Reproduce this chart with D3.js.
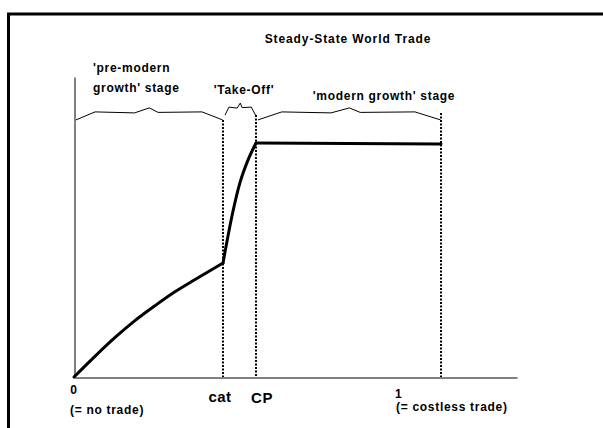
<!DOCTYPE html>
<html>
<head>
<meta charset="utf-8">
<script src="https://cdn.jsdelivr.net/npm/d3@7"></script>
<style>
body { margin: 0; background: #fff; }
text { font-family: "Liberation Sans", Arial, sans-serif; font-weight: bold; fill: #000; letter-spacing: 0.7px; }
</style>
</head>
<body>
<script>
// x = trade openness (0 = no trade, 1 = costless trade), y = steady-state world trade
var preModern = [[0, 0], [0.057, 0.069], [0.112, 0.132], [0.166, 0.188], [0.221, 0.238], [0.275, 0.284], [0.33, 0.325], [0.406, 0.38]];
var takeOff = [[0.406, 0.38], [0.431, 0.54], [0.452, 0.647], [0.474, 0.723], [0.496, 0.78]];
var modern = [[0.496, 0.78], [1, 0.777]];
var breakX = [0.406, 0.496, 1];          // cat, CP, 1
var breakTop = [0.857, 0.873, 0.88];
var stageSpans = [[0, 0.406], [0.406, 0.496], [0.496, 1]];
var stageBase = [0.857, 0.873, 0.857];
var stageNames = [["'pre-modern", "growth' stage"], ["'Take-Off'"], ["'modern growth' stage"]];
var tickLabels = ["0", "cat", "CP", "1"];
var tickValues = [0, 0.406, 0.496, 1];
var tickNotes = ["(= no trade)", "(= costless trade)"];
var title = "Steady-State World Trade";

var width = 603, height = 428;
var svg = d3.select("body").append("svg").attr("width", width).attr("height", height);
svg.append("rect").attr("width", width).attr("height", height).attr("fill", "#fff");

// frame (only top + left edges are in view)
svg.append("path").attr("d", "M8.5,428V14H603").attr("fill", "none").attr("stroke", "#000").attr("stroke-width", 3);

var x = d3.scaleLinear().domain([0, 1.207]).range([74, 517]);
var y = d3.scaleLinear().domain([0, 1]).range([377, 77]);

svg.append("g").attr("transform", "translate(0,377.5)")
    .call(d3.axisBottom(x).tickValues([]).tickSizeOuter(0));
svg.append("g").attr("transform", "translate(74.5,0)")
    .call(d3.axisLeft(y).tickValues([]).tickSizeOuter(0));
svg.selectAll(".domain").attr("stroke", "#000").attr("stroke-width", 1);

// dotted stage boundaries
svg.selectAll(".boundary").data(breakX).enter().append("line")
    .attr("class", "boundary")
    .attr("x1", function(d) { return Math.round(x(d)); })
    .attr("x2", function(d) { return Math.round(x(d)); })
    .attr("y1", function(d, i) { return Math.round(y(breakTop[i])); })
    .attr("y2", y(0))
    .attr("stroke", "#000").attr("stroke-width", 2).attr("stroke-dasharray", "2,1.5");

// the trade curve
var line = d3.line().curve(d3.curveMonotoneX)
    .x(function(d) { return x(d[0]); }).y(function(d) { return y(d[1]); });
[preModern, takeOff, modern].forEach(function(seg) {
    svg.append("path").datum(seg).attr("d", line)
        .attr("fill", "none").attr("stroke", "#000").attr("stroke-width", 3)
        .attr("stroke-linejoin", "round").attr("stroke-linecap", "round");
});

// curly braces over each stage
var braceRel = [0, 0.13, 0.4, 0.5, 0.56, 0.86, 1];
var braceOff = [0, -8, -7, -12, -7.5, -8, 0];
stageSpans.forEach(function(s, i) {
    var x0 = x(s[0]) + 2, x1 = x(s[1]) - 0.5, b = y(stageBase[i]);
    var pts = braceRel.map(function(r, k) { return [x0 + r * (x1 - x0), b + braceOff[k]]; });
    svg.append("path").attr("d", d3.line()(pts))
        .attr("fill", "none").attr("stroke", "#000").attr("stroke-width", 1);
});

// titles and stage labels
svg.append("text").attr("x", 348).attr("y", 43).attr("text-anchor", "middle")
    .style("font-size", "12px").style("letter-spacing", "0.9px").text(title);

var stagePos = [[93, 72], [244, 94], [384, 100]];
stageNames.forEach(function(lines, i) {
    lines.forEach(function(t, k) {
        svg.append("text").attr("x", stagePos[i][0]).attr("y", stagePos[i][1] + k * 20)
            .attr("text-anchor", i === 0 ? "start" : "middle")
            .style("font-size", "12px").text(t);
    });
});

// x-axis labels
svg.append("text").attr("x", x(tickValues[0])).attr("y", 394).attr("text-anchor", "middle")
    .style("font-size", "12px").text(tickLabels[0]);
svg.append("text").attr("x", x(tickValues[1]) - 3).attr("y", 402).attr("text-anchor", "middle")
    .style("font-size", "15px").style("letter-spacing", "0.5px").text(tickLabels[1]);
svg.append("text").attr("x", x(tickValues[2]) + 6).attr("y", 403).attr("text-anchor", "middle")
    .style("font-size", "15px").style("letter-spacing", "0.5px").text(tickLabels[2]);
svg.append("text").attr("x", x(tickValues[3]) - 46).attr("y", 398)
    .style("font-size", "12px").text(tickLabels[3]);
svg.append("text").attr("x", 70).attr("y", 414)
    .style("font-size", "12px").text(tickNotes[0]);
svg.append("text").attr("x", 396).attr("y", 411)
    .style("font-size", "12px").text(tickNotes[1]);
</script>
</body>
</html>
